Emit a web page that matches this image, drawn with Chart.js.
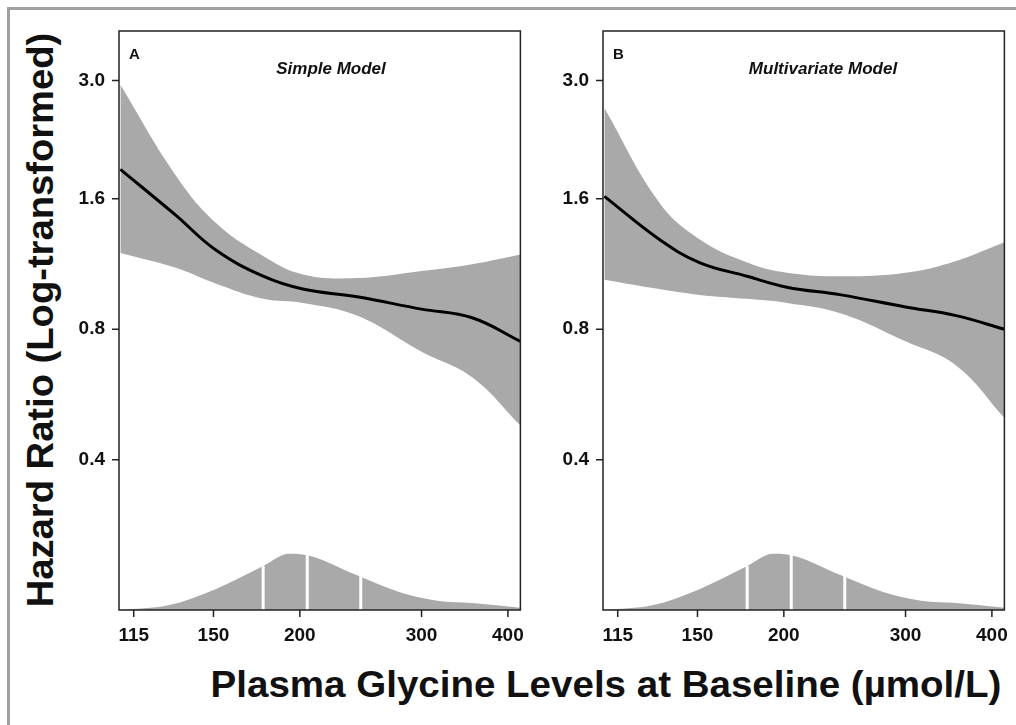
<!DOCTYPE html>
<html>
<head>
<meta charset="utf-8">
<script src="https://cdn.jsdelivr.net/npm/chart.js@4"></script>
<style>
  body { margin: 0; width: 1016px; height: 725px; background: #fff; position: relative; overflow: hidden;
         font-family: "Liberation Sans", Arial, sans-serif; }
  .frame { position: absolute; left: 7px; top: 7px; width: 1020px; height: 730px;
           border-top: 3px solid #a0a0a0; border-left: 3px solid #a0a0a0; }
  .wrap { position: absolute; top: 0; height: 660px; }
  #ytitle { position: absolute; left: 41px; top: 320px; transform: translate(-50%, -50%) rotate(-90deg) scaleX(1.06);
            font-weight: bold; font-size: 36px; white-space: nowrap; color: #111; }
  #xtitle { position: absolute; left: 606px; top: 664px; transform: translateX(-50%) scaleX(1.07);
            font-weight: bold; font-size: 36px; white-space: nowrap; color: #111; }
</style>
</head>
<body>
<div class="frame"></div>
<div id="ytitle">Hazard Ratio (Log-transformed)</div>
<div class="wrap" style="left:50px;width:480px"><canvas id="chartA"></canvas></div>
<div class="wrap" style="left:533px;width:481px"><canvas id="chartB"></canvas></div>
<div id="xtitle">Plasma Glycine Levels at Baseline (µmol/L)</div>
<script>
"use strict";

/* ---------------- DATA ---------------- */

const xTicks = [115, 150, 200, 300, 400];
const yTicks = [0.4, 0.8, 1.6, 3.0];

const glycine = [110, 132, 151, 177, 202, 242, 300, 355, 417];

const simpleHR    = [1.87, 1.47, 1.22, 1.06, 0.99, 0.95, 0.89, 0.85, 0.75];
const simpleUpper = [2.93, 1.82, 1.41, 1.18, 1.07, 1.05, 1.09, 1.13, 1.19];
const simpleLower = [1.20, 1.11, 1.02, 0.94, 0.92, 0.86, 0.71, 0.62, 0.48];

const multiHR    = [1.62, 1.29, 1.14, 1.06, 1.00, 0.96, 0.90, 0.86, 0.80];
const multiUpper = [2.59, 1.57, 1.29, 1.14, 1.08, 1.06, 1.08, 1.15, 1.27];
const multiLower = [1.04, 0.99, 0.96, 0.94, 0.92, 0.87, 0.75, 0.66, 0.50];

// distribution of glycine (relative height inside the panel)
const densityX = [110, 129, 151, 177, 193, 202, 242, 277, 316, 355, 417];
const densityY = [0.0, 0.008, 0.036, 0.076, 0.097, 0.096, 0.060, 0.032, 0.016, 0.012, 0.004];

const quartileX = [177, 205, 245];
const quartileY = [0.076, 0.095, 0.060];

/* ---------------- CHART ---------------- */

const GRAY = "#a9a9a9";
const FONT = "'Liberation Sans', Arial, sans-serif";

function pts(xs, ys) {
  return xs.map((x, i) => ({ x, y: ys[i] }));
}

const panelText = {
  id: "panelText",
  afterDraw(chart, args, opts) {
    const { ctx, chartArea: a } = chart;
    ctx.save();
    ctx.strokeStyle = "#222";
    ctx.lineWidth = 1.5;
    ctx.strokeRect(a.left, a.top, a.right - a.left, a.bottom - a.top);
    ctx.fillStyle = "#111";
    ctx.textBaseline = "middle";
    ctx.font = `bold 15px ${FONT}`;
    ctx.textAlign = "left";
    ctx.fillText(opts.letter, a.left + 10, a.top + 24);
    ctx.font = `italic bold 17px ${FONT}`;
    ctx.textAlign = "center";
    ctx.fillText(opts.title, a.left + opts.titleX, a.top + 38);
    ctx.restore();
  },
};

const tickMarks = {
  id: "tickMarks",
  afterDraw(chart) {
    const { ctx, chartArea: a, scales } = chart;
    ctx.save();
    ctx.strokeStyle = "#222";
    ctx.lineWidth = 1.5;
    ctx.beginPath();
    xTicks.forEach(v => { const px = scales.x.getPixelForValue(v); ctx.moveTo(px, a.bottom); ctx.lineTo(px, a.bottom + 7); });
    yTicks.forEach(v => { const py = scales.y.getPixelForValue(v); ctx.moveTo(a.left, py); ctx.lineTo(a.left - 7, py); });
    ctx.stroke();
    ctx.restore();
  },
};

function makeChart(canvas, letter, title, titleX, hr, upper, lower, yAxisWidth) {
  const quartileSets = quartileX.map((q, i) => ({
    data: [{ x: q, y: 0 }, { x: q, y: quartileY[i] }],
    yAxisID: "yd",
    borderColor: "#fff",
    borderWidth: 3,
    pointRadius: 0,
    fill: false,
    order: 0,
  }));

  return new Chart(canvas, {
    type: "line",
    data: {
      datasets: [
        { data: pts(glycine, upper), borderWidth: 0, pointRadius: 0, fill: "+1", order: 3,
          backgroundColor: GRAY, tension: 0.4 },
        { data: pts(glycine, lower), borderWidth: 0, pointRadius: 0, fill: false, order: 3,
          tension: 0.4 },
        { data: pts(glycine, hr), borderColor: "#000", borderWidth: 3, pointRadius: 0, order: 0,
          fill: false, tension: 0.4 },
        { data: pts(densityX, densityY), yAxisID: "yd", borderWidth: 0, pointRadius: 0, order: 3,
          fill: "origin", backgroundColor: GRAY, cubicInterpolationMode: "monotone" },
        ...quartileSets,
      ],
    },
    options: {
      responsive: true,
      maintainAspectRatio: false,
      animation: false,
      layout: { padding: { top: 31, right: 8, left: 0, bottom: 0 } },
      plugins: {
        legend: { display: false },
        tooltip: { enabled: false },
        panelText: { letter, title, titleX },
      },
      scales: {
        x: {
          type: "logarithmic",
          min: 109.5,
          max: 417,
          grid: { display: false },
          border: { display: false },
          afterBuildTicks: s => { s.ticks = xTicks.map(v => ({ value: v })); },
          afterFit: s => { s.height = 50; },
          ticks: {
            color: "#111", font: { family: FONT, size: 19, weight: "bold" },
            maxRotation: 0, autoSkip: false, padding: 6,
            callback: v => String(v),
          },
        },
        y: {
          type: "logarithmic",
          min: 0.18,
          max: 3.9,
          grid: { display: false },
          border: { display: false },
          afterBuildTicks: s => { s.ticks = yTicks.map(v => ({ value: v })); },
          afterFit: s => { s.width = yAxisWidth; },
          ticks: {
            color: "#111", font: { family: FONT, size: 19, weight: "bold" },
            padding: 6,
            callback: v => v.toFixed(1),
          },
        },
        yd: { type: "linear", min: 0, max: 1, display: false },
      },
    },
    plugins: [panelText, tickMarks],
  });
}

makeChart(document.getElementById("chartA"), "A", "Simple Model", 212, simpleHR, simpleUpper, simpleLower, 69);
makeChart(document.getElementById("chartB"), "B", "Multivariate Model", 220, multiHR, multiUpper, multiLower, 70);
</script>
</body>
</html>
